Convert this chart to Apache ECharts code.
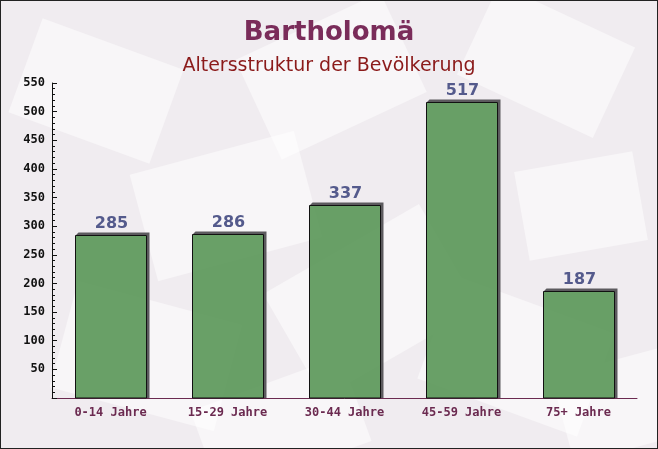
<!DOCTYPE html>
<html><head><meta charset="utf-8">
<script src="https://cdn.jsdelivr.net/npm/echarts@6/dist/echarts.min.js"></script>
<style>html,body{margin:0;padding:0;}#c{width:658px;height:449px;box-sizing:border-box;border:1px solid #222;}</style>
</head><body><div id="c"></div>
<script>
const titleText = 'Bartholomä';
const subtitleText = 'Altersstruktur der Bevölkerung';
const categories = ['0-14 Jahre', '15-29 Jahre', '30-44 Jahre', '45-59 Jahre', '75+ Jahre'];
const values = [285, 286, 337, 517, 187];

const chart = echarts.init(document.getElementById('c'));
const deco = [];
const rects = [
  [20, 40, 150, 100, -20], [250, 20, 160, 110, 25], [470, 10, 150, 100, -25],
  [140, 150, 170, 110, 15], [520, 160, 120, 90, 10], [60, 300, 170, 110, -15],
  [280, 240, 180, 120, 30], [430, 300, 170, 110, -20], [200, 380, 160, 90, 20], [560, 360, 110, 90, 15]
];
rects.forEach(r => deco.push({
  type: 'rect', x: r[0], y: r[1], rotation: r[4] * Math.PI / 180, originX: r[2]/2, originY: r[3]/2,
  shape: { width: r[2], height: r[3] }, style: { fill: 'rgba(255,255,255,0.5)' }, silent: true, z: -10
}));

function renderBar(params, api) {
  const idx = api.value(0), v = api.value(1);
  const top = api.coord([idx, v]);
  const base = api.coord([idx, 0]);
  const w = api.size([1, 0])[0] * 0.6;
  const x0 = Math.round(top[0] - w / 2) + 0.5, x1 = Math.round(top[0] + w / 2) + 0.5;
  const yt = Math.round(top[1]) + 0.5, yb = base[1];
  const d = 3;
  return {
    type: 'group',
    children: [
      { type: 'polygon', shape: { points: [[x0, yt], [x0 + d, yt - d], [x1 + d, yt - d], [x1 + d, yb], [x1, yb], [x1, yt]] },
        style: { fill: '#5c5a5e' } },
      { type: 'rect', shape: { x: x0, y: yt, width: x1 - x0, height: yb - yt },
        style: { fill: 'rgba(92,152,90,0.92)', stroke: '#111', lineWidth: 1 } },
      { type: 'text', x: top[0] + 1, y: yt - d - 9,
        style: { text: String(v), textAlign: 'center', textVerticalAlign: 'middle',
          font: 'bold 16px "DejaVu Sans"', fill: '#545a8c' } }
    ]
  };
}

chart.setOption({
  backgroundColor: '#f0ecf0',
  graphic: deco,
  title: [
    { text: titleText, left: 'center', top: 14, textStyle: { fontFamily: 'DejaVu Sans', fontWeight: 'bold', fontSize: 26, color: '#7a2c5a' } },
    { text: subtitleText, left: 'center', top: 51, textStyle: { fontFamily: 'DejaVu Sans', fontWeight: 'normal', fontSize: 19, color: '#8b1a1a' } }
  ],
  grid: { left: 51, right: 20, top: 82, bottom: 50 },
  xAxis: {
    type: 'category', data: categories,
    axisLine: { lineStyle: { color: '#6b2a50', width: 1 } },
    axisTick: { inside: true, length: 4, lineStyle: { color: '#6b2a50' } },
    axisLabel: { fontFamily: 'DejaVu Sans Mono', fontWeight: 'bold', fontSize: 12, color: '#6b2a50', margin: 9 }
  },
  yAxis: {
    type: 'value', min: 0, max: 550, interval: 50,
    axisLine: { show: true, lineStyle: { color: '#111', width: 1 } },
    axisTick: { show: true, inside: true, length: 5, lineStyle: { color: '#111' } },
    minorTick: { show: true, splitNumber: 5, length: 3, lineStyle: { color: '#111' } },
    splitLine: { show: false },
    axisLabel: { showMinLabel: false, fontFamily: 'DejaVu Sans Mono', fontWeight: 'bold', fontSize: 12, color: '#111', margin: 7 }
  },
  series: [{
    type: 'custom', renderItem: renderBar,
    data: values.map((v, i) => [i, v]),
    encode: { x: 0, y: 1 }
  }]
});
</script></body></html>
